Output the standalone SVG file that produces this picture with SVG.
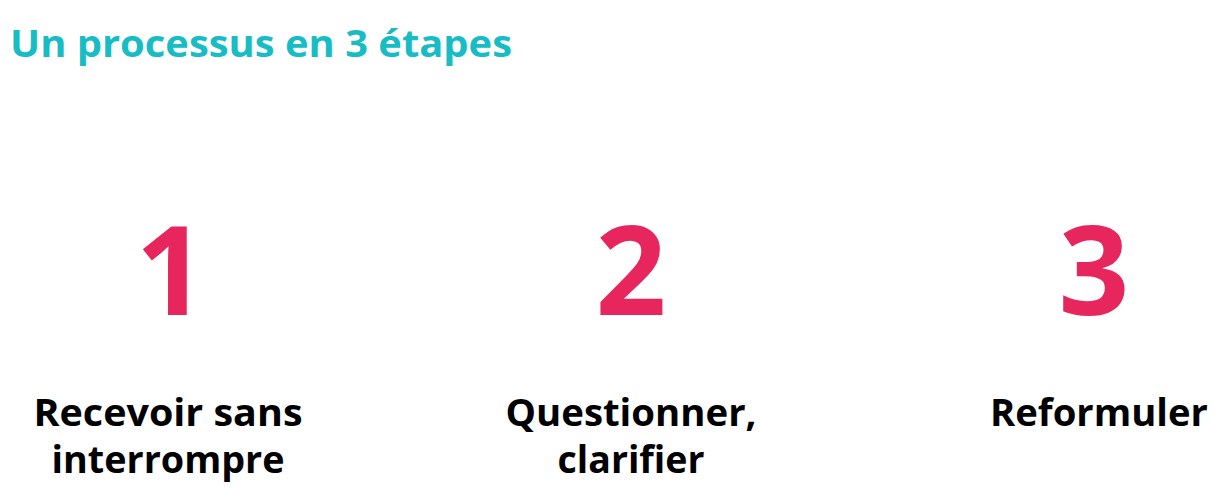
<svg xmlns="http://www.w3.org/2000/svg" width="1223" height="502" viewBox="0 0 1223 502">
<style>
.title{font-family:"Open Sans","Noto Sans",sans-serif;font-weight:700;font-size:38px;fill:#17bcc4}
.num{font-family:"Open Sans","Noto Sans",sans-serif;font-weight:700;font-size:124px;fill:#e8265e;text-anchor:middle}
.lbl{font-family:"Open Sans","Noto Sans",sans-serif;font-weight:700;font-size:38px;fill:#000;text-anchor:middle}
</style>
<rect width="1223" height="502" fill="#fff"/>
<text class="title" x="10" y="57" textLength="502" lengthAdjust="spacingAndGlyphs">Un processus en 3 étapes</text>
<g id="step1">
<text class="num" x="171" y="315">1</text>
<text class="lbl" x="168" y="426" textLength="269" lengthAdjust="spacingAndGlyphs">Recevoir sans</text>
<text class="lbl" x="168" y="473" textLength="233" lengthAdjust="spacingAndGlyphs">interrompre</text>
</g>
<g id="step2">
<text class="num" x="631" y="315">2</text>
<text class="lbl" x="631" y="426" textLength="251" lengthAdjust="spacingAndGlyphs">Questionner,</text>
<text class="lbl" x="631" y="473" textLength="147" lengthAdjust="spacingAndGlyphs">clarifier</text>
</g>
<g id="step3">
<text class="num" x="1094" y="315">3</text>
<text class="lbl" x="1099" y="426" textLength="218" lengthAdjust="spacingAndGlyphs">Reformuler</text>
</g>
<g id="connectors"></g>
</svg>
